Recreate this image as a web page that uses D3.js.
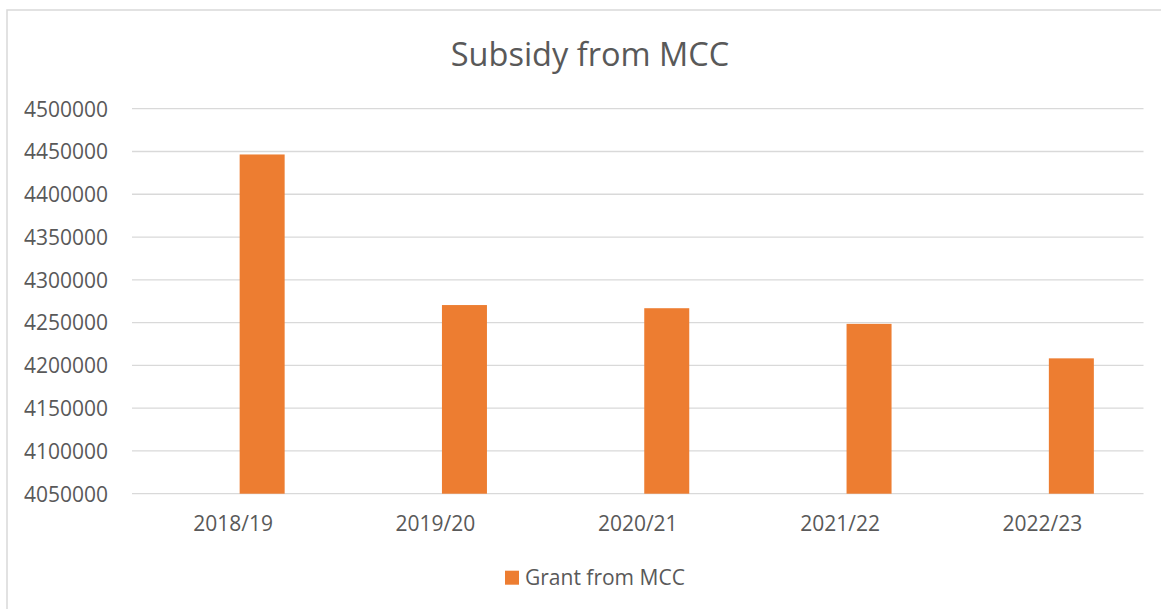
<!DOCTYPE html>
<html>
<head>
<meta charset="utf-8">
<script src="https://cdn.jsdelivr.net/npm/d3@7"></script>
<style>
	body{margin:0;background:#fff}
	text{font-family:"Open Sans",sans-serif;fill:#595959}
</style>
</head>
<body>
<script>
var years = ['2018/19','2019/20','2020/21','2021/22','2022/23']
var grant = [4446500,4270500,4266800,4248500,4208200]
var seriesName = 'Grant from MCC'
var yTicks = [4050000,4100000,4150000,4200000,4250000,4300000,4350000,4400000,4450000,4500000]

var W = 1161, H = 609
var svg = d3.select('body').append('svg').attr('width',W).attr('height',H)

// chart frame, cropped on right and bottom
svg.append('rect').attr('x',7).attr('y',10).attr('width',1200).attr('height',700)
	.style('fill','#fff').style('stroke','#d9d9d9').style('stroke-width',1.5)

var x = d3.scaleBand().domain(years).range([132,1143.5])
var y = d3.scaleLinear().domain([4050000,4500000]).range([493.7,108.7])

var grid = svg.append('g').attr('id','grid')
grid.selectAll('line').data(yTicks).enter().append('line')
	.attr('x1',132).attr('x2',1143.5)
	.attr('y1',d=>y(d)).attr('y2',d=>y(d))
	.style('stroke','#d9d9d9').style('stroke-width',1.3)

var yAxis = svg.append('g').attr('transform','translate(108,0)')
	.call(d3.axisLeft(y).tickValues(yTicks).tickFormat(d3.format('d')).tickSize(0).tickPadding(0))
yAxis.select('.domain').remove()
yAxis.selectAll('text').style('font-size','21px').style('fill','#595959')
	.attr('dy','0.35em')

var xAxis = svg.append('g').attr('transform','translate(0,493.7)')
	.call(d3.axisBottom(x).tickSize(0).tickPadding(0))
xAxis.select('.domain').remove()
xAxis.selectAll('text').style('font-size','21px').style('fill','#595959')
	.attr('y',37).attr('dy',0)

// bars sit right of the category centre (empty first series in cluster)
var barW = 45, barShift = 6.5
svg.append('g').attr('id','bars').selectAll('rect').data(grant).enter().append('rect')
	.attr('x',(d,i)=>x(years[i]) + x.bandwidth()/2 + barShift)
	.attr('y',d=>y(d))
	.attr('width',barW)
	.attr('height',d=>y(4050000)-y(d))
	.style('fill','#ED7D31')

svg.append('text').text('Subsidy from MCC')
	.attr('x',590).attr('y',66)
	.attr('text-anchor','middle')
	.style('font-size','32.5px')

var legend = svg.append('g').attr('transform','translate(505,570.7)')
legend.append('rect').attr('width',14).attr('height',14).style('fill','#ED7D31')
legend.append('text').text(seriesName)
	.attr('x',20).attr('y',14)
	.style('font-size','21px')
</script>
</body>
</html>
